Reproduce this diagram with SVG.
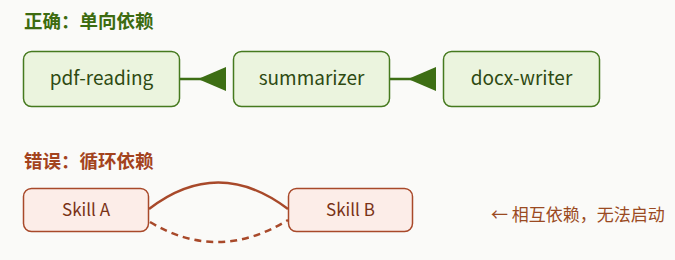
<svg xmlns="http://www.w3.org/2000/svg" width="675" height="260" viewBox="0 0 675 260">
<style>
.bg{fill:#fafaf8}
.ok{fill:#ebf4de;stroke:#467a1f;stroke-width:1.5}
.bad{fill:#fcede8;stroke:#a8492a;stroke-width:1.5}
.h{font-family:"Noto Sans CJK SC","Noto Sans",sans-serif;font-weight:bold;font-size:18.5px}
.t{font-family:"Noto Sans CJK SC","Noto Sans",sans-serif;text-anchor:middle}
.okt{fill:#2e4a12;font-size:19px}
.badt{fill:#7a3216;font-size:17px}
.gl{stroke:#3d6e14;stroke-width:2.5;fill:none}
.gh{fill:#3d6e14}
.rl{stroke:#a8492a;stroke-width:2.5;fill:none}
</style>
<rect class="bg" x="0" y="0" width="675" height="260"/>
<text class="h" x="24" y="28" fill="#3d6b10">正确：单向依赖</text>
<text class="h" x="24" y="168" fill="#a3431d">错误：循环依赖</text>
<g id="pdf-reading"><rect class="ok" x="23.5" y="51.5" width="156" height="55" rx="8"/><text class="t okt" x="101.5" y="85">pdf-reading</text></g>
<g id="summarizer"><rect class="ok" x="233.5" y="51.5" width="156" height="55" rx="8"/><text class="t okt" x="311.5" y="85">summarizer</text></g>
<g id="docx-writer"><rect class="ok" x="443.5" y="51.5" width="156" height="55" rx="8"/><text class="t okt" x="521.5" y="85">docx-writer</text></g>
<g id="skill-a"><rect class="bad" x="23.5" y="188.5" width="125" height="43" rx="8"/><text class="t badt" x="86" y="216">Skill A</text></g>
<g id="skill-b"><rect class="bad" x="288.5" y="188.5" width="124" height="43" rx="8"/><text class="t badt" x="350.5" y="216">Skill B</text></g>
<g id="connectors">
<line class="gl" x1="180" y1="79" x2="226" y2="79"/>
<polygon class="gh" points="198,79 226,67 226,91"/>
<line class="gl" x1="390" y1="79" x2="436" y2="79"/>
<polygon class="gh" points="408,79 436,67 436,91"/>
<path class="rl" d="M149,209 Q218,156 288,209"/>
<path class="rl" d="M150,222 Q218,263 288,220" stroke-dasharray="7,5"/>
</g>
<text x="491" y="221" font-family="'Noto Sans CJK SC','Noto Sans',sans-serif" font-size="17" fill="#9a4a22">← 相互依赖，无法启动</text>
</svg>
